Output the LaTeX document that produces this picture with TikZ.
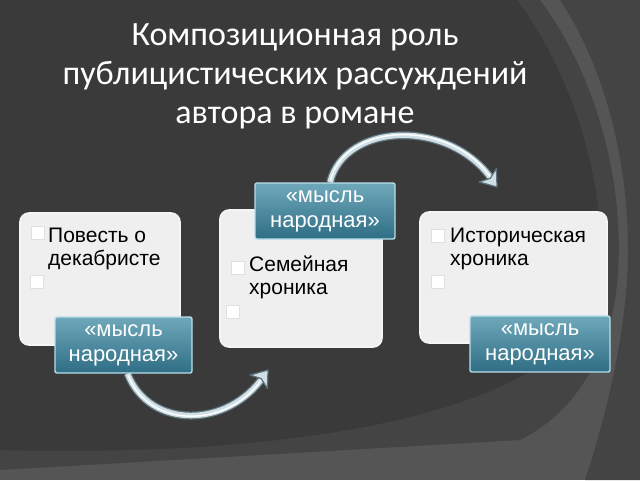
\documentclass[tikz,border=0pt]{standalone}
\usepackage{fontspec}
\setmainfont{Liberation Sans}
\newfontfamily\titlefont{Carlito}
\pgfdeclarelayer{bg}
\pgfdeclarelayer{background}
\pgfsetlayers{bg,background,main}
\definecolor{bgdark}{HTML}{3A3A3A}
\definecolor{bgmid}{HTML}{444444}
\definecolor{bglight}{HTML}{555555}
\definecolor{tealtop}{HTML}{6FA8BA}
\definecolor{tealbot}{HTML}{2F6E85}
\definecolor{tealedge}{HTML}{B8DEEA}
\definecolor{boxfill}{HTML}{EFEFEF}
\definecolor{arrowlight}{HTML}{CFDFE6}
\definecolor{arrowdark}{HTML}{5D7078}
\tikzset{
  card/.style={draw=white!92!gray, line width=1.6pt, fill=boxfill, rounded corners=9pt},
  tealbox/.style={draw=tealedge, line width=1.4pt, top color=tealtop, bottom color=tealbot, rounded corners=2pt,
     text=white, align=center, font=\fontsize{22}{25}\selectfont, inner sep=0pt},
  cardtext/.style={anchor=north west, align=left, inner sep=0pt, font=\fontsize{21}{23}\selectfont, text=black},
  bullet/.style={fill=white, draw=black!12, line width=0.5pt, minimum size=13pt, inner sep=0pt},
  arrowout/.style={line width=8pt, draw=arrowdark, shorten >=8pt},
  arrowin/.style={line width=5.5pt, draw=arrowlight, shorten >=8pt},
  arrowshine/.style={line width=1.4pt, draw=white, shorten >=12pt, shorten <=2pt},
  arrowhead/.style={fill=arrowlight, draw=arrowdark, line width=1.2pt, line join=round},
}
\begin{document}
\begin{tikzpicture}[x=1pt,y=-1pt]
\useasboundingbox (0,0) rectangle (640,480);
% background
\begin{pgfonlayer}{bg}
\fill[bglight] (0,0) rectangle (640,480);
\fill[bgmid] (0,0) -- (540,0) .. controls (600,80) and (630,200) .. (615,300) .. controls (600,380) and (560,420) .. (520,440) -- (0,470) -- cycle;
\fill[bgmid] (560,0) -- (640,0) -- (640,480) -- (585,480) .. controls (605,420) and (628,330) .. (628,250) .. controls (628,150) and (600,60) .. (560,0) -- cycle;
\fill[bgdark] (0,0) -- (517,0) .. controls (570,70) and (612,190) .. (598,290) .. controls (585,380) and (400,460) .. (0,450) -- cycle;
\end{pgfonlayer}
% title
\node[text=white, align=center, font=\titlefont\fontsize{34}{39}\selectfont, inner sep=0pt] (title) at (295,76)
  {Композиционная роль\\публицистических рассуждений\\автора в романе};
% cards
\draw[card] (20,213) rectangle (180,345);
\node[inner sep=0pt] (card1) at (100,279) {};
\draw[card] (220,210) rectangle (382,347);
\node[inner sep=0pt] (card2) at (301,278) {};
\draw[card] (420,212) rectangle (607,343);
\node[inner sep=0pt] (card3) at (513,277) {};
% bullets and texts
\node[bullet] (b11) at (38,233) {};
\node[bullet] (b12) at (37,282) {};
\node[cardtext] (t1) at (48,228) {Повесть о\\декабристе};
\node[bullet] (b21) at (238,268) {};
\node[bullet] (b22) at (233,312) {};
\node[cardtext] (t2) at (249,256) {Семейная\\хроника};
\node[bullet] (b31) at (438,236) {};
\node[bullet] (b32) at (438,282) {};
\node[cardtext] (t3) at (450,228) {Историческая\\хроника};
% teal boxes
\node[tealbox, minimum width=137pt, minimum height=56pt] (m1) at (123.5,345) {«мысль\\народная»};
\node[tealbox, minimum width=140pt, minimum height=56pt] (m2) at (325,211) {«мысль\\народная»};
\node[tealbox, minimum width=140pt, minimum height=56pt] (m3) at (540,344) {«мысль\\народная»};
% arrows
\coordinate (e1) at (268,370);
\coordinate (e2) at (497,187);
\begin{pgfonlayer}{background}
\coordinate (s1) at ([xshift=4pt]m1.south);
\draw[arrowout] (s1) .. controls (150,430) and (228,428) .. (e1);
\draw[arrowin] (s1) .. controls (150,430) and (228,428) .. (e1);
\draw[arrowshine] (s1) .. controls (150,430) and (228,428) .. (e1);
\filldraw[arrowhead, shift={(e1)}, rotate=52] (0,0) -- (-15,-11) -- (-11,0) -- (-15,11) -- cycle;
\coordinate (s2) at ([xshift=5pt]m2.north);
\draw[arrowout] (s2) .. controls (345,122) and (450,118) .. (e2);
\draw[arrowin] (s2) .. controls (345,122) and (450,118) .. (e2);
\draw[arrowshine] (s2) .. controls (345,122) and (450,118) .. (e2);
\filldraw[arrowhead, shift={(e2)}, rotate=-52] (0,0) -- (-15,-11) -- (-11,0) -- (-15,11) -- cycle;
\end{pgfonlayer}
\end{tikzpicture}
\end{document}
